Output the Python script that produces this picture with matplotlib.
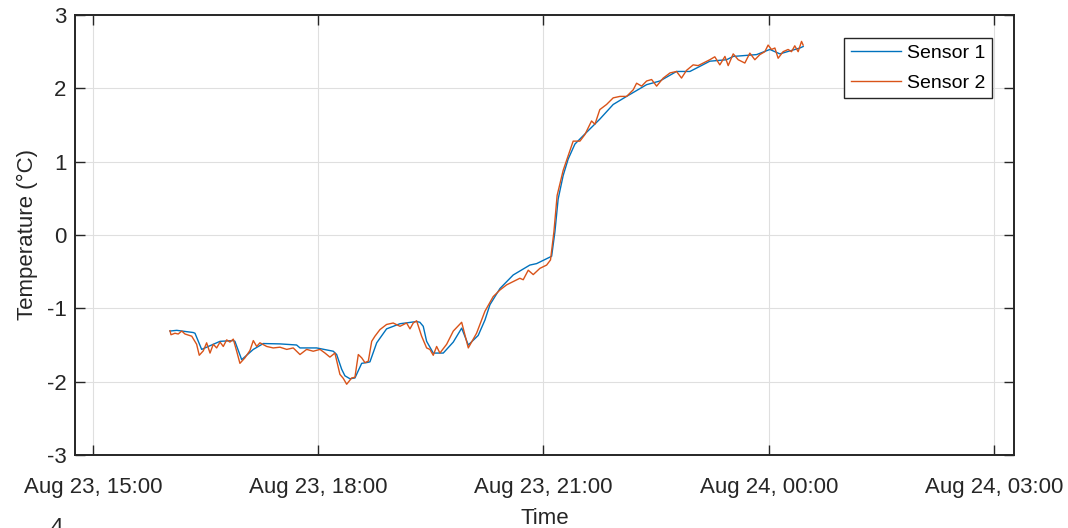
import numpy as np
import pandas as pd
import matplotlib
matplotlib.use("Agg")
import matplotlib.pyplot as plt
import matplotlib.dates as mdates

plt.rcParams['font.family'] = ['Liberation Sans', 'DejaVu Sans']
plt.rcParams['axes.unicode_minus'] = False

# minutes after Aug 23, 15:00
t1_min = [61.5, 66.9, 80.1, 81.5, 86.8, 90.8, 101.5, 112.1, 113.4, 118.8,
          128.1, 136.1, 149.4, 162.7, 165.4, 178.7, 192.0, 194.7, 198.7, 201.3,
          205.3, 209.3, 214.7, 218.7, 221.3, 226.7, 234.6, 245.3, 258.6, 261.2,
          263.9, 266.6, 271.9, 279.9, 287.9, 294.6, 299.9, 307.8, 313.2, 317.2,
          325.2, 335.8, 349.1, 354.5, 366.5, 369.1, 371.7, 375.7, 379.7, 385.1,
          394.4, 405.0, 415.7, 426.4, 442.4, 453.0, 466.3, 477.0, 485.0, 492.9,
          506.3, 511.6, 530.3, 540.9, 548.9, 564.9, 567.5]
sensor1 = [-1.31, -1.30, -1.33, -1.34, -1.56, -1.53, -1.45, -1.44, -1.45, -1.70,
           -1.56, -1.48, -1.485, -1.50, -1.54, -1.54, -1.585, -1.63, -1.83, -1.92,
           -1.96, -1.95, -1.75, -1.74, -1.73, -1.47, -1.28, -1.21, -1.18, -1.19,
           -1.245, -1.45, -1.61, -1.61, -1.46, -1.27, -1.50, -1.37, -1.16, -0.95,
           -0.73, -0.545, -0.41, -0.39, -0.29, 0.04, 0.49, 0.81, 1.035, 1.24,
           1.40, 1.58, 1.78, 1.89, 2.05, 2.10, 2.23, 2.23, 2.30, 2.37,
           2.39, 2.435, 2.46, 2.53, 2.47, 2.55, 2.57]

t2_min = [61.5, 62.3, 65.5, 68.1, 70.9, 73.5, 78.9, 82.8, 84.9, 88.1,
          90.8, 93.5, 96.1, 98.8, 101.5, 104.1, 106.8, 109.4, 112.1, 114.8,
          117.4, 121.4, 125.4, 128.1, 130.8, 133.4, 138.8, 144.0, 149.4, 154.8,
          160.0, 165.4, 170.7, 176.0, 181.4, 185.4, 189.3, 193.3, 197.3, 200.0,
          202.7, 206.7, 209.3, 212.0, 214.7, 217.3, 220.0, 222.7, 225.3, 229.3,
          234.6, 239.9, 245.3, 250.6, 253.3, 255.9, 258.6, 262.6, 266.6, 269.2,
          271.9, 274.6, 277.2, 282.6, 287.9, 294.6, 299.9, 306.5, 313.2, 319.8,
          325.2, 330.5, 335.8, 341.1, 343.8, 347.8, 351.8, 357.1, 362.5, 365.6,
          368.3, 370.9, 375.7, 379.7, 383.7, 389.1, 393.1, 398.4, 401.1, 405.0,
          410.4, 415.7, 421.1, 426.4, 431.7, 434.4, 438.4, 442.4, 446.4, 450.4,
          455.7, 461.1, 466.3, 470.3, 474.3, 479.6, 483.6, 487.6, 492.9, 496.9,
          500.9, 505.0, 507.6, 511.6, 515.6, 520.9, 524.9, 528.9, 532.9, 536.9,
          539.5, 542.2, 544.9, 547.5, 551.5, 555.5, 558.2, 560.8, 563.5, 566.2,
          567.5]
sensor2 = [-1.305, -1.36, -1.34, -1.35, -1.31, -1.35, -1.38, -1.49, -1.64, -1.58,
           -1.47, -1.61, -1.49, -1.54, -1.46, -1.52, -1.43, -1.46, -1.42, -1.585,
           -1.75, -1.675, -1.575, -1.44, -1.52, -1.47, -1.52, -1.54, -1.53, -1.56,
           -1.54, -1.63, -1.56, -1.585, -1.56, -1.61, -1.665, -1.61, -1.90, -1.955,
           -2.035, -1.95, -1.94, -1.63, -1.675, -1.74, -1.72, -1.45, -1.38, -1.29,
           -1.22, -1.20, -1.245, -1.20, -1.28, -1.20, -1.17, -1.38, -1.54, -1.56,
           -1.64, -1.52, -1.61, -1.49, -1.31, -1.19, -1.54, -1.34, -1.04, -0.84,
           -0.75, -0.68, -0.635, -0.59, -0.61, -0.48, -0.54, -0.455, -0.41, -0.34,
           0.04, 0.54, 0.88, 1.08, 1.28, 1.28, 1.37, 1.555, 1.51, 1.71,
           1.78, 1.87, 1.89, 1.89, 1.98, 2.07, 2.03, 2.10, 2.12, 2.03,
           2.14, 2.21, 2.23, 2.14, 2.245, 2.32, 2.31, 2.345, 2.39, 2.43,
           2.32, 2.435, 2.31, 2.47, 2.39, 2.345, 2.48, 2.39, 2.46, 2.50,
           2.59, 2.53, 2.55, 2.41, 2.50, 2.53, 2.50, 2.58, 2.50, 2.64,
           2.59]

base = pd.Timestamp("2021-08-23 15:00")
tick_hours = [0, 3, 6, 9, 12]


def to_time(minutes):
    return base + pd.to_timedelta(np.asarray(minutes), unit="min")


fig = plt.figure(figsize=(10.68, 5.28), dpi=100)
ax = fig.add_axes([75 / 1068, 1 - 455 / 528, (1014 - 75) / 1068, (455 - 15) / 528])

ax.plot(to_time(t1_min), sensor1, color='#0072BD', linewidth=1.0, label='Sensor 1')
ax.plot(to_time(t2_min), sensor2, color='#D95319', linewidth=1.0, label='Sensor 2')

ax.set_xlim(base - pd.Timedelta(minutes=14.4), base + pd.Timedelta(minutes=736))
ax.set_ylim(-3, 3)
ax.set_xticks([base + pd.Timedelta(hours=h) for h in tick_hours])
ax.xaxis.set_major_formatter(mdates.DateFormatter('%b %d, %H:%M'))
ax.set_yticks([-3, -2, -1, 0, 1, 2, 3])

dark = '#262626'
ax.grid(True, color='#dfdfdf', linewidth=0.8)
ax.set_axisbelow(True)
ax.tick_params(direction='in', length=7, width=1.0, top=True, right=True,
               colors=dark, labelsize=16, pad=6)
ax.tick_params(axis='x', pad=16)
for s in ax.spines.values():
    s.set_linewidth(1.4)
    s.set_color(dark)

ax.set_xlabel('Time', fontsize=16, color=dark, labelpad=7)
ax.set_ylabel('Temperature (°C)', fontsize=16, color=dark, labelpad=6)

leg = ax.legend(loc='upper right', bbox_to_anchor=(0.977, 0.948), fontsize=14,
                fancybox=False, framealpha=1, edgecolor=dark, handlelength=2.6,
                borderpad=0.35, labelspacing=0.6, handletextpad=0.3, borderaxespad=0)
leg.get_frame().set_linewidth(1.0)

fig.text(57 / 1068, 1 - 517 / 528, '4', fontsize=16, color=dark, ha='center', va='top')

fig.savefig('out.png', dpi=100)
